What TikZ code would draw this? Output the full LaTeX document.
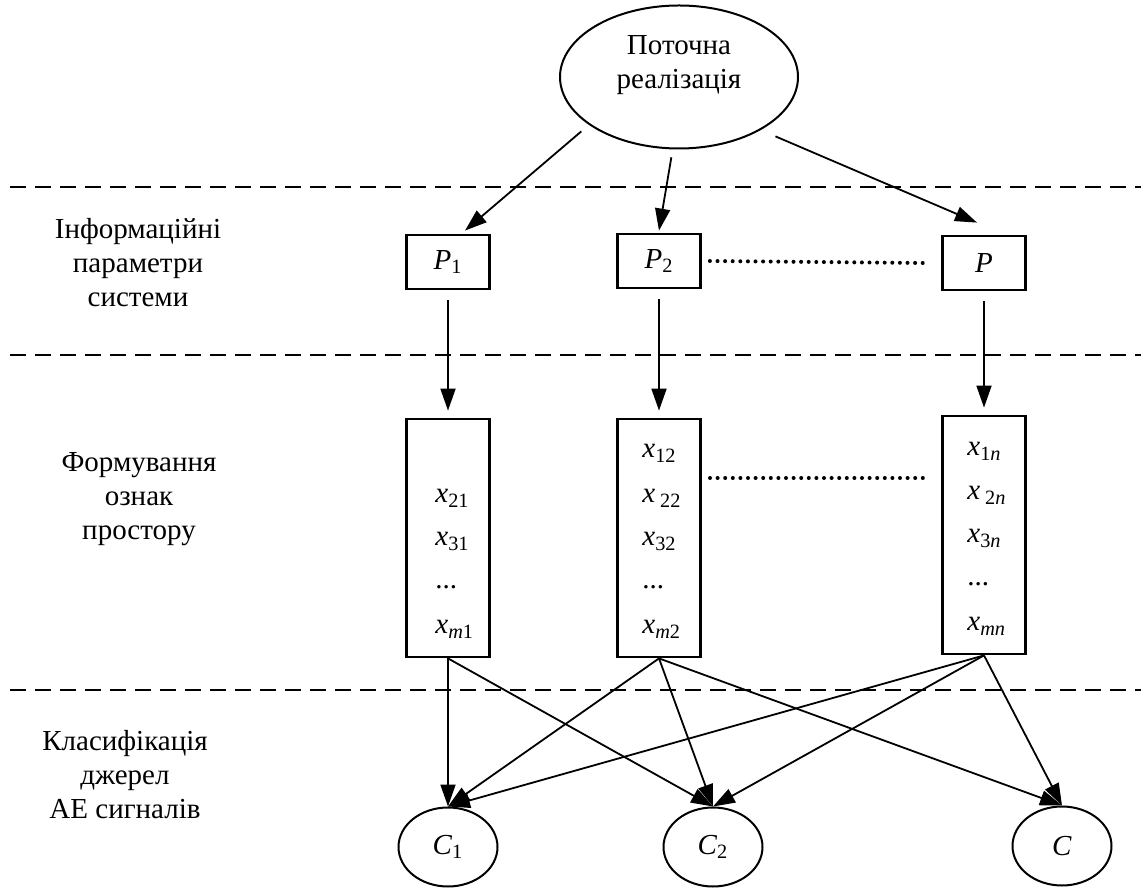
\documentclass[tikz,border=0pt]{standalone}
\usepackage{fontspec}
\setmainfont{Liberation Serif}
\usetikzlibrary{arrows.meta,shapes.geometric}
\newcommand{\ent}[2]{\textit{#1}\textsubscript{#2}}

\begin{document}
\begin{tikzpicture}[x=0.5pt, y=-0.5pt,
	every node/.style={font=\fontsize{14.5}{17}\selectfont},
	oval/.style={ellipse, draw, line width=1pt, inner sep=0pt},
	pbox/.style={draw, line width=1.4pt, minimum width=41.5pt, minimum height=27pt},
	xbox/.style={draw, line width=1.4pt, minimum width=41.5pt, minimum height=119pt},
	entry/.style={anchor=base west, inner sep=0pt},
	arr/.style={line width=0.9pt, -{Triangle[length=11pt,width=7.5pt]}},
	sep/.style={line width=1pt, dash pattern=on 8pt off 4.5pt},
	dots/.style={line width=2pt, line cap=round, dash pattern=on 0pt off 3.8pt},
	lbl/.style={align=center}]
				\useasboundingbox (0,0) rectangle (1141,892);
				% levels
				\draw[sep] (10,187) -- (1141,187);
				\draw[sep] (10,355) -- (1141,355);
				\draw[sep] (10,690) -- (1141,690);
				\node[lbl] (info) at (138,263) {Інформаційні\\параметри\\системи};
				\node[lbl] (feat) at (139,499) {Формування\\ознак\\простору};
				\node[lbl] (clas) at (125,775) {Класифікація\\джерел\\АЕ сигналів};
				% current realisation
				\node[oval, minimum width=119pt, minimum height=71.5pt] (real) at (679,77) {};
				\node[lbl] (realtxt) at (679,65) {Поточна\\реалізація};
				% parameters
				\node[pbox] (p1) at (448,262) {\ent{P}{1}};
				\node[pbox] (p2) at (659,261) {\ent{P}{2}};
				\node[pbox] (pn) at (984,263) {\textit{P}};
				\draw[dots] ([xshift=4pt]p2.east) -- ([xshift=-9pt]pn.west);
				% feature space
				\node[xbox] (f1) at (448,538) {};
				\node[xbox] (f2) at (659,538) {};
				\node[xbox] (fn) at (984,535) {};
				\node[entry] (x21) at (435,503) {\ent{x}{21}};
				\node[entry] (x31) at (435,546) {\ent{x}{31}};
				\node[entry] (xd1) at (435,589) {...};
				\node[entry] (xm1) at (435,634) {\ent{x}{\textit{m}1}};
				\node[entry] (x12) at (642,458) {\ent{x}{12}};
				\node[entry] (x22) at (642,503) {\textit{x}\,\textsubscript{22}};
				\node[entry] (x32) at (642,546) {\ent{x}{32}};
				\node[entry] (xd2) at (642,589) {...};
				\node[entry] (xm2) at (642,634) {\ent{x}{\textit{m}2}};
				\node[entry] (x1n) at (967,456) {\ent{x}{1\textit{n}}};
				\node[entry] (x2n) at (967,500) {\textit{x}\,\textsubscript{2\textit{n}}};
				\node[entry] (x3n) at (967,543) {\ent{x}{3\textit{n}}};
				\node[entry] (xdn) at (967,586) {...};
				\node[entry] (xmn) at (967,631) {\ent{x}{\textit{mn}}};
				\coordinate (d1) at (710,478);
				\coordinate (d2) at (925,478);
				\draw[dots] (d1) -- (d2);
				% classes
				\node[oval, minimum width=49.5pt, minimum height=39.5pt] (c1) at (448,847) {\ent{C}{1}};
				\node[oval, minimum width=49.5pt, minimum height=39.5pt] (c2) at (713,847) {\ent{C}{2}};
				\node[oval, minimum width=49.5pt, minimum height=39.5pt] (cn) at (1062,846) {\textit{C}};
				% arrows
				\draw[arr, shorten <=5pt] (real.208) -- ([xshift=8.5pt,yshift=1.5pt]p1.north);
				\draw[arr, shorten <=4pt] (real.265) -- ([yshift=1pt]p2.north);
				\draw[arr, shorten <=8pt] (real.327) -- ([xshift=-3.5pt,yshift=6pt]pn.north);
				\draw[arr, shorten <=5pt, shorten >=3.5pt] (p1.south) -- (f1.north);
				\draw[arr, shorten <=5pt, shorten >=3.5pt] (p2.south) -- (f2.north);
				\draw[arr, shorten <=5pt, shorten >=3.5pt] (pn.south) -- (fn.north);
				\draw[arr] (f1.south) -- (c1.north);
				\draw[arr] (f1.south) -- (c2.north);
				\draw[arr] (f2.south) -- (c1.north);
				\draw[arr] (f2.south) -- (c2.north);
				\draw[arr] (f2.south) -- (cn.north);
				\draw[arr] (fn.south) -- (c1.north);
				\draw[arr] (fn.south) -- (c2.north);
				\draw[arr] (fn.south) -- (cn.north);
			\end{tikzpicture}
\end{document}
